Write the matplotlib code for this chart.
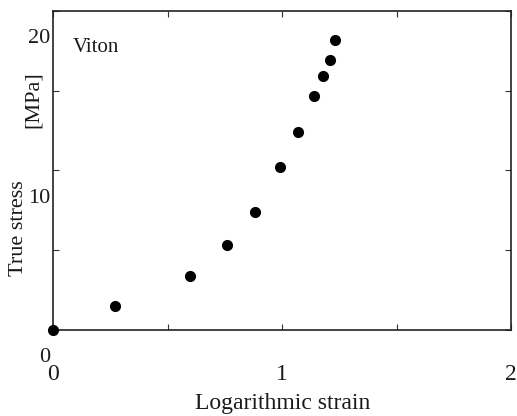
import matplotlib
matplotlib.use("Agg")
import matplotlib.pyplot as plt
from matplotlib.transforms import ScaledTranslation

strain = [0.0, 0.27, 0.60, 0.76, 0.88, 0.99, 1.07, 1.14, 1.18, 1.21, 1.23]
stress = [0.0, 1.5, 3.4, 5.3, 7.4, 10.2, 12.4, 14.7, 15.9, 16.9, 18.2]

xticks = [0, 0.5, 1, 1.5, 2]
yticks = [0, 5, 10, 15, 20]
xtick_labels = {0: "0", 1: "1", 2: "2"}
ytick_labels = {0: "0", 10: "10", 20: "20"}

plt.rcParams['font.family'] = ['Liberation Serif', 'DejaVu Serif']
TC = '#1a1a1a'

fig = plt.figure(figsize=(5.17, 4.16), dpi=100)
ax = fig.add_axes([53/517, 1-330/416, 458/517, 319/416])
ax.plot(strain, stress, 'o', color='black', ms=7, clip_on=False, zorder=5)
ax.set_xlim(0, 2)
ax.set_ylim(0, 20)
ax.set_xticks(xticks)
ax.set_yticks(yticks)
ax.set_xticklabels([])
ax.set_yticklabels([])
ax.tick_params(direction='in', top=True, right=True, length=4, width=0.8, color='#333333')
for s in ax.spines.values():
    s.set_linewidth(1.2)
    s.set_color('#222222')

# tick labels (scanned figure: shifted downward)
for v, t in ytick_labels.items():
    off = ScaledTranslation(-3/100, -28/100, fig.dpi_scale_trans)
    ax.text(0, v, t, transform=ax.transData + off, ha='right', va='center',
            fontsize=16, color=TC)
for v, t in xtick_labels.items():
    off = ScaledTranslation(0, -45/100, fig.dpi_scale_trans)
    ax.text(v, 0, t, transform=ax.transData + off, ha='center', va='center',
            fontsize=17, color=TC)

fig.text(73/517, 1-47/416, "Viton", ha='left', va='center',
         fontsize=15, color=TC)
fig.text(283/517, 1-404/416, "Logarithmic strain", ha='center', va='center',
         fontsize=17, color=TC)
fig.text(19/517, 1-228/416, "True stress", rotation=90, ha='center', va='center',
         fontsize=16, color=TC)
fig.text(33/517, 1-100/416, "[MPa]", rotation=90, ha='center', va='center',
         fontsize=16, color=TC)

fig.savefig("out.png", dpi=100)
